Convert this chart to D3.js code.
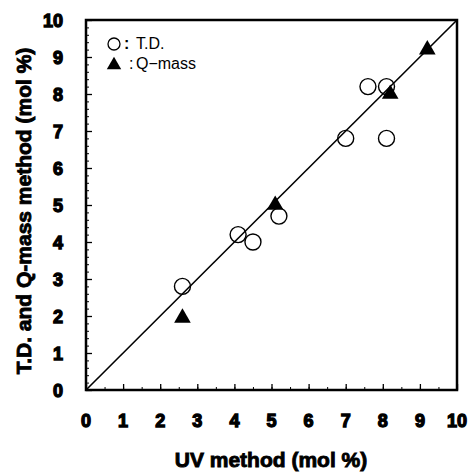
<!DOCTYPE html>
<html>
<head>
<meta charset="utf-8">
<script src="https://cdn.jsdelivr.net/npm/d3@7"></script>
<style>
  body { margin: 0; background: #fff; }
  text { font-family: "Liberation Sans", Arial, sans-serif; }
  .heavy { font-weight: bold; stroke: #000; stroke-width: 0.9px; }
  .ticklab { font-weight: bold; font-size: 18px; stroke: #000; stroke-width: 1.3px; fill: #000; }
</style>
</head>
<body>
<svg id="chart" width="470" height="473"></svg>
<script>
// T.D. (circles) and Q-mass (triangles) vs UV method
var tdX = [2.6, 4.1, 4.5, 5.2, 7.0, 8.1, 7.6, 8.1];
var tdY = [2.8, 4.2, 4.0, 4.7, 6.8, 6.8, 8.2, 8.2];
var qmX = [2.6, 5.1, 8.2, 9.2];
var qmY = [1.95, 5.0, 8.0, 9.2];
var tickValues = [0, 1, 2, 3, 4, 5, 6, 7, 8, 9, 10];
var legendLabels = ["T.D.", "Q\u2212mass"];

var svg = d3.select("#chart");

var xScale = d3.scaleLinear().domain([0, 10]).range([86, 457]);
var yScale = d3.scaleLinear().domain([0, 10]).range([390, 20]);

// minor ticks
svg.append("g")
    .attr("transform", "translate(0,390)")
    .call(d3.axisBottom(xScale).tickValues(d3.range(0, 10.01, 0.5)).tickSize(-3).tickFormat(""))
    .call(function(g){ g.select(".domain").remove(); });
svg.append("g")
    .attr("transform", "translate(86,0)")
    .call(d3.axisLeft(yScale).tickValues(d3.range(0, 10.01, 0.2)).tickSize(-3).tickFormat(""))
    .call(function(g){ g.select(".domain").remove(); });

// major ticks, labels drawn separately below
var xAxis = svg.append("g")
    .attr("transform", "translate(0,390)")
    .call(d3.axisBottom(xScale).tickValues(tickValues).tickSizeInner(-6).tickSizeOuter(0).tickFormat(""));
var yAxis = svg.append("g")
    .attr("transform", "translate(86,0)")
    .call(d3.axisLeft(yScale).tickValues(tickValues).tickSizeInner(-6).tickSizeOuter(0).tickFormat(""));
[xAxis, yAxis].forEach(function(ax){
    ax.select(".domain").remove();
    ax.selectAll("line").attr("stroke-width", 1.3);
});
svg.selectAll("g line").attr("stroke", "#000");

svg.selectAll(".xlab")
    .data(tickValues)
    .enter().append("text")
    .attr("class", "ticklab")
    .attr("x", function(d){ return xScale(d); })
    .attr("y", 427)
    .attr("text-anchor", "middle")
    .text(function(d){ return d; });
svg.selectAll(".ylab")
    .data(tickValues)
    .enter().append("text")
    .attr("class", "ticklab")
    .attr("x", 63)
    .attr("y", function(d){ return yScale(d) + 6.5; })
    .attr("text-anchor", "end")
    .text(function(d){ return d; });

// frame
svg.append("rect")
    .attr("x", xScale(0)).attr("y", yScale(10))
    .attr("width", xScale(10) - xScale(0))
    .attr("height", yScale(0) - yScale(10))
    .attr("fill", "none")
    .attr("stroke", "#000")
    .attr("stroke-width", 2.5);

// 1:1 line
svg.append("line")
    .attr("x1", xScale(0)).attr("y1", yScale(0))
    .attr("x2", xScale(10)).attr("y2", yScale(10))
    .attr("stroke", "#000")
    .attr("stroke-width", 1.6);

var tri = d3.symbol().type(d3.symbolTriangle);

// Q-mass triangles
svg.selectAll(".qm")
    .data(d3.range(qmX.length))
    .enter().append("path")
    .attr("class", "qm")
    .attr("d", tri.size(120))
    .attr("transform", function(i){ return "translate(" + xScale(qmX[i]) + "," + yScale(qmY[i]) + ")"; })
    .attr("fill", "#000");

// T.D. circles
svg.selectAll(".td")
    .data(d3.range(tdX.length))
    .enter().append("circle")
    .attr("class", "td")
    .attr("cx", function(i){ return xScale(tdX[i]); })
    .attr("cy", function(i){ return yScale(tdY[i]); })
    .attr("r", 8)
    .attr("fill", "none")
    .attr("stroke", "#000")
    .attr("stroke-width", 1.4);

// legend
var leg = svg.append("g");
leg.append("circle")
    .attr("cx", 114).attr("cy", 44).attr("r", 6)
    .attr("fill", "none").attr("stroke", "#000").attr("stroke-width", 1.3);
leg.append("path")
    .attr("d", tri.size(90))
    .attr("transform", "translate(114,65)")
    .attr("fill", "#000");
leg.append("text").attr("x", 124).attr("y", 49).text(":").style("font-size", "16px").style("font-weight", "bold");
leg.append("text").attr("x", 129).attr("y", 69).text(":").style("font-size", "16px");
leg.selectAll(".lab")
    .data(legendLabels)
    .enter().append("text")
    .attr("class", "lab")
    .attr("x", 136)
    .attr("y", function(d, i){ return 49 + i * 20; })
    .style("font-size", "16px")
    .text(function(d){ return d; });

// axis titles
svg.append("text")
    .attr("class", "heavy")
    .attr("x", 271).attr("y", 467)
    .attr("text-anchor", "middle")
    .style("font-size", "21px")
    .text("UV method (mol %)");
svg.append("text")
    .attr("class", "heavy")
    .attr("transform", "translate(31,211) rotate(-90)")
    .attr("text-anchor", "middle")
    .style("font-size", "21px")
    .text("T.D. and Q-mass method (mol %)");
</script>
</body>
</html>
